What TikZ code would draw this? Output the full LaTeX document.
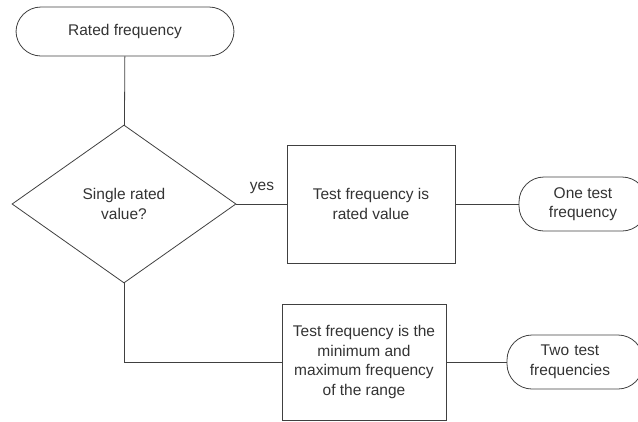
\documentclass[tikz,border=0pt]{standalone}
\usepackage{fontspec}
\setmainfont{Liberation Sans}
\usetikzlibrary{shapes.geometric}
\definecolor{ln}{HTML}{404040}
\definecolor{tx}{HTML}{333333}
\tikzset{
  base/.style={draw=ln, line width=0.8pt, text=tx, align=center, inner sep=0pt,
    font=\fontsize{15.5}{19.5}\selectfont},
  term/.style={base, rectangle, rounded corners=25pt},
  procbox/.style={base, rectangle},
  decis/.style={base, diamond},
  conn/.style={draw=ln, line width=0.8pt},
}
\begin{document}
\begin{tikzpicture}[x=1pt,y=-1pt]
\useasboundingbox (0,0) rectangle (638,421);
\clip (0,0) rectangle (638,421);
\node[term, minimum width=218pt, minimum height=49pt] (top) at (125,31.5) {Rated frequency};
\node[decis, minimum width=224pt, minimum height=158pt] (dec) at (124,204) {Single rated\\value?};
\node[procbox, minimum width=168pt, minimum height=118pt] (b1) at (371,204) {Test frequency is\\rated value};
\node[term, minimum width=128pt, minimum height=54pt] (t2) at (583,204) {One test\\frequency};
\node[procbox, minimum width=164pt, minimum height=116pt] (b2) at (364,362) {Test frequency is the\\minimum and\\maximum frequency\\of the range};
\node[term, minimum width=136pt, minimum height=54pt, text width=126pt] (t3) at (575,362) {\hspace*{-10pt}Two test\\\hspace*{-10pt}frequencies};
\coordinate (corner) at (124,362);
\draw[conn] (top) -- (dec);
\draw[conn] (dec.east) -- (dec.east -| b1.west);
\draw[conn] (b1.east) -- (b1.east -| t2.west);
\draw[conn] (dec.south) -- (corner) -- (b2.west);
\draw[conn] (b2.east) -- (b2.east -| t3.west);
\node[text=tx, font=\fontsize{15.5}{19.5}\selectfont, inner sep=0pt] (yes) at (262,188) {yes};
\end{tikzpicture}
\end{document}
